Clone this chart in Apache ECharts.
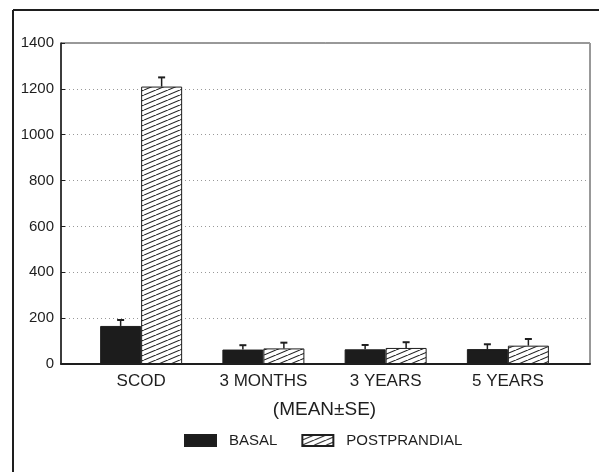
<!DOCTYPE html>
<html>
<head>
<meta charset="utf-8">
<script src="https://cdn.jsdelivr.net/npm/echarts@6/dist/echarts.min.js"></script>
<style>
  html, body { margin: 0; padding: 0; background: #fff; }
  #chart { width: 599px; height: 472px; }
</style>
</head>
<body>
<div id="chart"></div>
<script>
const categories = ['SCOD', '3 MONTHS', '3 YEARS', '5 YEARS']
const basal = [166, 63, 64, 65]
const basalSE = [26, 19, 19, 21]
const postprandial = [1210, 68, 70, 80]
const postprandialSE = [40, 25, 25, 29]
const yTicks = [0, 200, 400, 600, 800, 1000, 1200, 1400]

const font = '"Liberation Sans", Arial, sans-serif'
const ink = '#1e1e1e'

// diagonal hatch tile for the postprandial bars
const makeHatch = () => {
  const w = 12, h = 5
  const c = document.createElement('canvas')
  c.width = w
  c.height = h
  const ctx = c.getContext('2d')
  ctx.fillStyle = '#fff'
  ctx.fillRect(0, 0, w, h)
  ctx.strokeStyle = '#222'
  ctx.lineWidth = 1.1
  for (const dx of [-w, 0, w]) {
    ctx.beginPath()
    ctx.moveTo(dx, h)
    ctx.lineTo(dx + w, 0)
    ctx.stroke()
  }
  return c
}
const hatch = { image: makeHatch(), repeat: 'repeat' }

const barW = 41

const errorSeries = (values, se, offset) => ({
  type: 'custom',
  xAxisIndex: 1,
  yAxisIndex: 1,
  z: 5,
  silent: true,
  data: values.map((v, i) => [i, v, se[i]]),
  renderItem: (params, api) => {
    const x = api.coord([api.value(0), 0])[0] + offset
    const base = api.coord([api.value(0), api.value(1)])[1]
    const top = api.coord([api.value(0), api.value(1) + api.value(2)])[1]
    return {
      type: 'group',
      children: [
        { type: 'line', shape: { x1: x, y1: base, x2: x, y2: top }, style: { stroke: ink, lineWidth: 1.5 } },
        { type: 'line', shape: { x1: x - 3.5, y1: top, x2: x + 3.5, y2: top }, style: { stroke: ink, lineWidth: 2 } },
      ],
    }
  },
})

const chart = echarts.init(document.getElementById('chart'))

chart.setOption({
  animation: false,
  backgroundColor: '#fff',
  textStyle: { fontFamily: font },
  graphic: [
    { type: 'line', shape: { x1: 13, y1: 10, x2: 599, y2: 10 }, style: { stroke: ink, lineWidth: 2 } },
    { type: 'line', shape: { x1: 13, y1: 10, x2: 13, y2: 472 }, style: { stroke: ink, lineWidth: 2 } },
  ],
  legend: {
    left: 184,
    top: 433,
    padding: 0,
    itemWidth: 31,
    itemHeight: 11,
    itemGap: 24,
    icon: 'rect',
    textStyle: { fontFamily: font, fontSize: 15, color: ink, padding: [0, 0, 0, 8] },
    data: ['BASAL', 'POSTPRANDIAL'],
  },
  grid: [
    { left: 61, right: 9, top: 43, bottom: 108, show: true, borderColor: '#333', borderWidth: 1 },
    { left: 80, right: 30, top: 43, bottom: 108 },
  ],
  xAxis: [
    { gridIndex: 0, type: 'value', min: 0, max: 1, axisLabel: { show: false }, axisTick: { show: false }, splitLine: { show: false }, axisLine: { lineStyle: { color: ink, width: 2 } } },
    {
      gridIndex: 1,
      type: 'category',
      data: categories,
      axisLine: { show: false },
      axisTick: { show: false },
      axisLabel: { fontFamily: font, fontSize: 17, color: ink, margin: 9 },
      name: '(MEAN±SE)',
      nameLocation: 'middle',
      nameGap: 36,
      nameTextStyle: { fontFamily: font, fontSize: 19, color: ink },
    },
  ],
  yAxis: [
    {
      gridIndex: 0,
      type: 'value',
      min: 0,
      max: 1400,
      interval: 200,
      axisLine: { show: true, lineStyle: { color: ink, width: 1.5 } },
      axisTick: { show: true, inside: true, length: 4, lineStyle: { color: ink } },
      axisLabel: { fontFamily: font, fontSize: 15, color: ink, margin: 7, formatter: (v) => (yTicks.includes(v) ? String(v) : '') },
      splitLine: { show: true, lineStyle: { type: [1, 3], color: '#999', width: 1 } },
    },
    { gridIndex: 1, type: 'value', min: 0, max: 1400, show: false },
  ],
  series: [
    {
      name: 'BASAL',
      type: 'bar',
      xAxisIndex: 1,
      yAxisIndex: 1,
      data: basal,
      barWidth: barW,
      barGap: '0%',
      itemStyle: { color: '#1c1c1c', borderColor: ink, borderWidth: 1 },
    },
    {
      name: 'POSTPRANDIAL',
      type: 'bar',
      xAxisIndex: 1,
      yAxisIndex: 1,
      data: postprandial,
      barWidth: barW,
      barGap: '0%',
      itemStyle: { color: hatch, borderColor: ink, borderWidth: 1 },
    },
    errorSeries(basal, basalSE, -barW / 2),
    errorSeries(postprandial, postprandialSE, barW / 2),
  ],
})
</script>
</body>
</html>
